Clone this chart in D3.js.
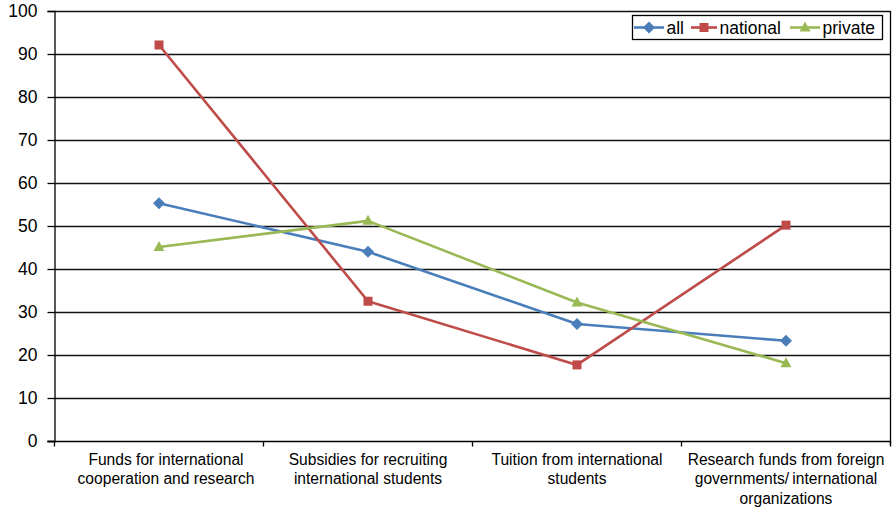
<!DOCTYPE html>
<html>
<head>
<meta charset="utf-8">
<script src="https://cdn.jsdelivr.net/npm/d3@7"></script>
<style>
  html, body { margin: 0; padding: 0; background: #fff; }
  svg { display: block; font-family: "Liberation Sans", Arial, sans-serif; }
</style>
</head>
<body>
<svg id="chart" width="893" height="507"></svg>
<script>
// Funding sources, share of institutions (%)
const categories = [
  ["Funds for international", "cooperation and research"],
  ["Subsidies for recruiting", "international students"],
  ["Tuition from international", "students"],
  ["Research funds from foreign", "governments/\u2009international", "organizations"]
];
const seriesNames = ["all", "national", "private"];
const allValues = [55.3, 44, 27.2, 23.3];
const nationalValues = [92.1, 32.5, 17.7, 50.2];
const privateValues = [45.1, 51.2, 32.2, 18.1];
const yTicks = [0, 10, 20, 30, 40, 50, 60, 70, 80, 90, 100];

const series = [
  { name: seriesNames[0], values: allValues, color: "#4a7ebb", marker: "diamond" },
  { name: seriesNames[1], values: nationalValues, color: "#be4b48", marker: "square" },
  { name: seriesNames[2], values: privateValues, color: "#98b954", marker: "triangle" }
];

const svg = d3.select("#chart");
const plotLeft = 54.5, plotRight = 890.5, plotTop = 11, plotBottom = 441;

const x = d3.scaleBand().domain(d3.range(categories.length)).range([plotLeft, plotRight]).padding(0);
const y = d3.scaleLinear().domain([0, 100]).range([plotBottom, plotTop]);

// horizontal gridlines
svg.append("g").selectAll("line").data(yTicks.filter(d => d > 0)).join("line")
  .attr("x1", plotLeft).attr("x2", plotRight)
  .attr("y1", d => Math.round(y(d)) + 0.5).attr("y2", d => Math.round(y(d)) + 0.5)
  .attr("stroke", "#111").attr("stroke-width", 1.3);

// right frame line
svg.append("line")
  .attr("x1", plotRight).attr("x2", plotRight).attr("y1", plotTop).attr("y2", plotBottom + 4)
  .attr("stroke", "#000").attr("stroke-width", 1.3);

// y axis
const yAxis = d3.axisLeft(y).tickValues(yTicks).tickSize(7).tickPadding(10);
const gy = svg.append("g").attr("transform", `translate(${plotLeft},0)`).call(yAxis);
gy.select(".domain").attr("stroke", "#000").attr("stroke-width", 1.3);
gy.selectAll(".tick line").attr("stroke", "#000").attr("stroke-width", 1.3);
gy.selectAll(".tick text").attr("font-size", 17.5).attr("fill", "#000")
  .attr("font-family", "Liberation Sans, Arial, sans-serif");

// x axis with tick marks at category boundaries
const gx = svg.append("g").attr("transform", `translate(0,${plotBottom + 0.5})`);
gx.append("line").attr("x1", plotLeft - 7).attr("x2", plotRight).attr("y1", 0).attr("y2", 0)
  .attr("stroke", "#000").attr("stroke-width", 1.3);
const bounds = d3.range(categories.length + 1).map(i => i < categories.length ? x(i) : plotRight);
gx.selectAll("line.tick").data(bounds).join("line").attr("class", "tick")
  .attr("x1", d => d).attr("x2", d => d).attr("y1", 0).attr("y2", 5)
  .attr("stroke", "#000").attr("stroke-width", 1.3);

// wrapped category labels; the first one sits slightly right of its band centre
const labelShift = [7, 0, 0, 0];
const labels = gx.selectAll("text").data(categories).join("text")
  .attr("x", (d, i) => x(i) + x.bandwidth() / 2 + labelShift[i])
  .attr("y", 23.5)
  .attr("text-anchor", "middle")
  .attr("font-size", 15.6)
  .attr("fill", "#000");
labels.selectAll("tspan").data(d => d).join("tspan")
  .attr("x", function () { return d3.select(this.parentNode).attr("x"); })
  .attr("dy", (d, i) => i === 0 ? 0 : 19.3)
  .text(d => d);

// lines
const cx = i => x(i) + x.bandwidth() / 2;
const line = d3.line().x((d, i) => cx(i)).y(d => y(d));
svg.append("g").selectAll("path").data(series).join("path")
  .attr("d", s => line(s.values))
  .attr("fill", "none")
  .attr("stroke", s => s.color)
  .attr("stroke-width", 2.6)
  .attr("stroke-linejoin", "round");

// markers
function drawMarker(g, type, color, px, py) {
  if (type === "square") {
    g.append("rect").attr("x", px - 4.5).attr("y", py - 4.5).attr("width", 9).attr("height", 9)
      .attr("fill", color);
  } else if (type === "diamond") {
    g.append("path").attr("d", `M${px},${py - 6}L${px + 6},${py}L${px},${py + 6}L${px - 6},${py}Z`)
      .attr("fill", color);
  } else {
    g.append("path").attr("d", `M${px},${py - 6}L${px + 5.5},${py + 4}L${px - 5.5},${py + 4}Z`)
      .attr("fill", color);
  }
}
const gm = svg.append("g");
series.forEach(s => {
  s.values.forEach((v, i) => drawMarker(gm, s.marker, s.color, cx(i), y(v)));
});

// legend
const lg = svg.append("g");
lg.append("rect").attr("x", 632.5).attr("y", 15.5).attr("width", 250).attr("height", 24)
  .attr("fill", "#fff").attr("stroke", "#000").attr("stroke-width", 1.3);
const legendLineX = [634, 691, 790];
const legendLineW = [30, 26, 30];
series.forEach((s, i) => {
  const lx = legendLineX[i], ly = 27.5, w = legendLineW[i];
  lg.append("line").attr("x1", lx).attr("x2", lx + w).attr("y1", ly).attr("y2", ly)
    .attr("stroke", s.color).attr("stroke-width", 2.6);
  drawMarker(lg, s.marker, s.color, lx + w / 2, ly);
  lg.append("text").attr("x", lx + w + 2.5).attr("y", ly + 6.3)
    .attr("font-size", 17.5).attr("fill", "#000").text(s.name);
});
</script>
</body>
</html>
